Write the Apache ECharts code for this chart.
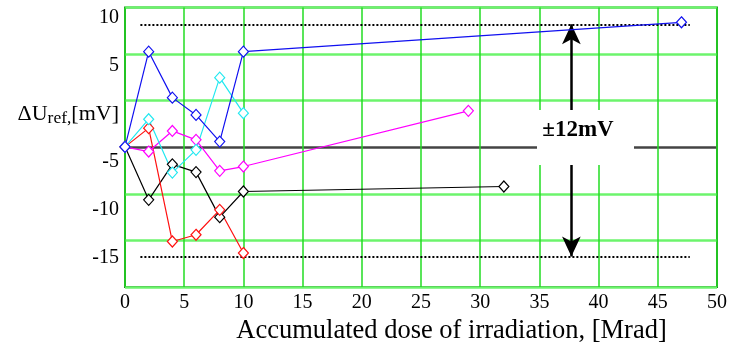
<!DOCTYPE html>
<html>
<head>
<meta charset="utf-8">
<script src="https://cdn.jsdelivr.net/npm/echarts@6/dist/echarts.min.js"></script>
<style>html,body{margin:0;padding:0;background:#fff}#c{width:744px;height:347px}</style>
</head>
<body>
<div id="c"></div>
<script>
// Dose values (Mrad) and dU_ref values (mV, read on the printed tick scale)
var blueDose = [0, 2, 4, 6, 8, 10, 47];
var blueVal  = [-3.43, 6.49, 1.70, -0.10, -2.88, 6.49, 9.55];
var cyanDose = [0, 2, 4, 6, 8, 10];
var cyanVal  = [-3.43, -0.55, -6.11, -3.74, 3.78, 0.08];
var magentaDose = [0, 2, 4, 6, 8, 10, 29];
var magentaVal  = [-3.43, -3.92, -1.77, -2.70, -5.93, -5.48, 0.32];
var redDose = [0, 2, 4, 6, 8, 10];
var redVal  = [-3.43, -1.48, -13.29, -12.59, -9.99, -14.49];
var blackDose = [0, 2, 4, 6, 8, 10, 32];
var blackVal  = [-3.43, -8.95, -5.25, -6.06, -10.75, -8.08, -7.56];

var yTickLabels = [10, 5, 0, -5, -10, -15];
var xTicks = [0, 5, 10, 15, 20, 25, 30, 35, 40, 45, 50];

var limitUpper = 9.34, limitLower = -14.85;
var limitDoseFrom = 1.3, limitDoseTo = 47.7;
var arrowDose = 37.7;
var limitText = '\u00b112mV';

function pairs(xs, ys) { return xs.map(function (x, i) { return [x, ys[i]]; }); }

var serif = 'Liberation Serif';
var gridH = '#6cf46c';

function dataSeries(name, xs, ys, color) {
  return {
    name: name, type: 'line', data: pairs(xs, ys),
    symbol: 'diamond', symbolSize: [10, 11],
    lineStyle: { color: color, width: 1.2 },
    itemStyle: { color: '#fff', borderColor: color, borderWidth: 1.2 },
    z: 5
  };
}

var chart = echarts.init(document.getElementById('c'));
chart.setOption({
  animation: false,
  backgroundColor: '#fff',
  textStyle: { fontFamily: serif },
  grid: { left: 125, right: 27, top: 7.5, bottom: 60, show: true, borderColor: '#2b7a2b', borderWidth: 2,
    backgroundColor: 'transparent', containLabel: false, outerBoundsMode: 'none' },
  xAxis: {
    type: 'value', min: 0, max: 50, interval: 5,
    axisLine: { show: false }, axisTick: { show: false },
    axisLabel: { fontFamily: serif, fontSize: 20, color: '#000', margin: 6,
      customValues: xTicks },
    splitLine: { show: true, lineStyle: { color: '#22dd22', width: 1.5 } },
    name: 'Accumulated dose of irradiation, [Mrad]',
    nameLocation: 'middle', nameGap: 23,
    nameTextStyle: { fontFamily: serif, fontSize: 26.5, color: '#000', padding: [0, 0, 0, 61] }
  },
  yAxis: [
    {
      type: 'value', min: -18.03, max: 11.09,
      axisLine: { show: false }, axisTick: { show: false },
      splitLine: { show: false },
      axisLabel: {
        customValues: yTickLabels,
        fontFamily: serif, fontSize: 20, color: '#000', margin: 6,
        formatter: function (v) {
          if (Math.abs(v) < 1e-9) return '{a|\u0394U}{s|ref,}{a|[mV]}';
          return '{n|' + v + '}';
        },
        rich: {
          n: { fontFamily: serif, fontSize: 20, color: '#000' },
          a: { fontFamily: serif, fontSize: 22, color: '#000' },
          s: { fontFamily: serif, fontSize: 17.5, color: '#000', verticalAlign: 'bottom', padding: [8, 0, 0, 0] }
        }
      }
    },
    {
      type: 'value', min: 0, max: 6, interval: 1,
      axisLine: { show: false }, axisTick: { show: false }, axisLabel: { show: false },
      splitLine: { show: true, lineStyle: { color: [gridH, gridH, gridH, '#444444', gridH, gridH, gridH], width: 2.5 } }
    }
  ],
  series: [
    dataSeries('black', blackDose, blackVal, '#000000'),
    dataSeries('red', redDose, redVal, '#ff1010'),
    dataSeries('magenta', magentaDose, magentaVal, '#ff00ff'),
    dataSeries('cyan', cyanDose, cyanVal, '#22e8f0'),
    dataSeries('blue', blueDose, blueVal, '#1010f0'),
    {
      name: 'limits', type: 'line', data: [], z: 4,
      markLine: {
        silent: true, symbol: ['none', 'none'], label: { show: false },
        lineStyle: { color: '#000', type: [2, 2], width: 2 },
        data: [
          [{ coord: [limitDoseFrom, limitUpper] }, { coord: [limitDoseTo, limitUpper] }],
          [{ coord: [limitDoseFrom, limitLower] }, { coord: [limitDoseTo, limitLower] }]
        ]
      }
    },
    {
      name: 'range', type: 'line', data: [], z: 4,
      markLine: {
        silent: true, symbol: ['arrow', 'arrow'], symbolSize: [14, 20], label: { show: false },
        lineStyle: { color: '#000', type: 'solid', width: 2.5 },
        data: [
          [{ coord: [arrowDose, limitLower] }, { coord: [arrowDose, limitUpper] }]
        ]
      }
    }
  ],
  graphic: [
    { type: 'rect', shape: { x: 537, y: 110, width: 97, height: 55 }, style: { fill: '#fff' }, z: 100 },
    { type: 'text', x: 578, y: 130, z: 101,
      style: { text: limitText, fontFamily: serif, fontSize: 23, fontWeight: 'bold', fill: '#000', align: 'center', verticalAlign: 'middle' } }
  ]
});
</script>
</body>
</html>
